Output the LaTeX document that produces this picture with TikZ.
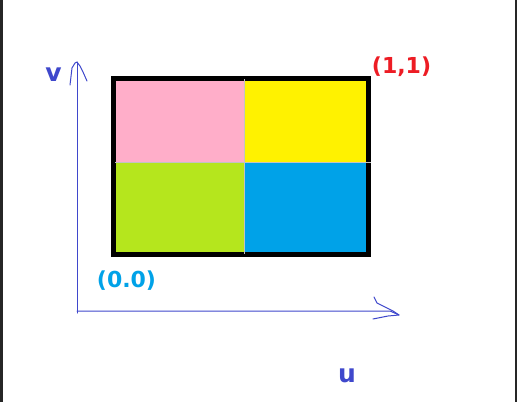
\documentclass[tikz,border=0pt]{standalone}
\usepackage{fontspec}
\setmainfont{DejaVu Sans}
\definecolor{indigo}{HTML}{3F48CC}
\definecolor{pred}{HTML}{ED1C24}
\definecolor{turq}{HTML}{00A2E8}
\definecolor{rose}{HTML}{FFAEC9}
\definecolor{pyellow}{HTML}{FFF200}
\definecolor{lime}{HTML}{B5E61D}
\definecolor{lgray}{HTML}{C3C3C3}
\definecolor{frame}{HTML}{262626}
\begin{document}
\begin{tikzpicture}[x=1pt,y=-1pt,
  axis/.style={draw=indigo,line width=1pt,line join=round,line cap=round},
  axlabel/.style={text=indigo,font=\bfseries\fontsize{25}{25}\selectfont,anchor=base,inner sep=0pt},
  ptlabel/.style={font=\bfseries\fontsize{22}{22}\selectfont,anchor=base,inner sep=0pt},
  quad/.style={draw=none}]
\useasboundingbox (0,0) rectangle (517,402);
\fill[white] (0,0) rectangle (517,402);
\fill[frame] (0,0) rectangle (3,402);
\fill[frame] (515,0) rectangle (517,402);
% quadrants
\fill[rose] (116,81) rectangle (244,162);
\fill[pyellow] (244,81) rectangle (366,162);
\fill[lime] (116,162) rectangle (244,252);
\fill[turq] (244,162) rectangle (366,252);
\draw[black,line width=5pt] (113.5,78.5) rectangle (368.5,254.5);
\draw[lgray,line width=1pt] (244,79) -- (244,254);
\draw[lgray,line width=1pt] (115,162) -- (371,162);
% axes
\coordinate (o) at (77,311);
\coordinate (vt) at (77,62);
\coordinate (ut) at (399,315);
\draw[axis] (77,313) -- (vt);
\draw[axis] (o) -- (390,311) -- (ut);
\draw[axis] (70,85) -- (72,68) -- (75,63) -- (vt) -- (80,66) -- (83,72) -- (87,81);
\draw[axis] (374,297) -- (377,303) -- (385,307) -- (393,311) -- (ut) -- (388,316) -- (378,318) -- (373,319);
% labels
\node[axlabel] (v) at (53.5,81) {v};
\node[axlabel] (u) at (347,382) {u};
\node[ptlabel,text=pred] (p11) at (401.5,73) {(1,1)};
\node[ptlabel,text=turq] (p00) at (126.5,287) {(0.0)};
\end{tikzpicture}
\end{document}
